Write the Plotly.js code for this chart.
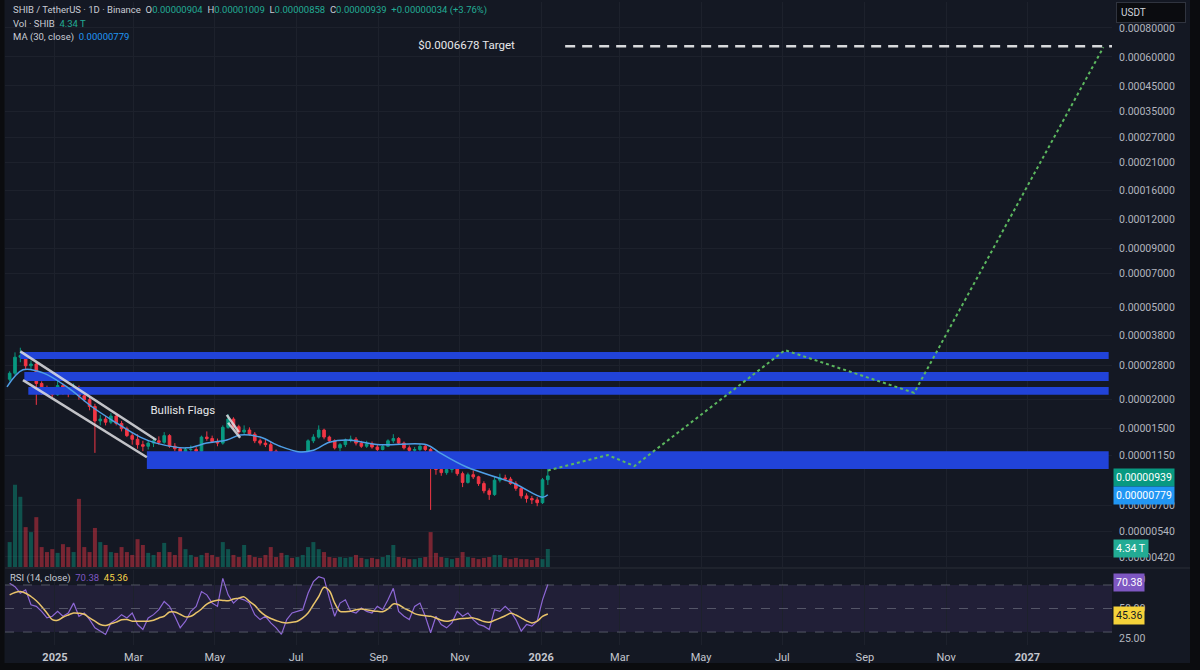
<!DOCTYPE html>
<html><head><meta charset="utf-8">
<script src="https://cdn.plot.ly/plotly-3.0.1.min.js"></script>
<style>html,body{margin:0;padding:0;background:#141823;}#chart{width:1200px;height:670px;}</style>
</head><body><div id="chart"></div>
<script>
// ================= DATA =================
// Candles (4-day bars) starting 2024-11-28, prices in units of 1e-6 USDT
const candleStart = '2024-11-28';
const candleStepDays = 4;
const openE6 = [
 24.5,26,30.5,31,28,28.5,23.5,22,21.5,21,
 23,21.5,21.2,22.5,20.8,20,18.7,16.2,16.5,16,
 17,15.8,15,14,13.5,12.8,12.6,13,13.3,13.1,
 14,12.6,12.3,11.8,12.2,12.2,12,13.8,13.6,13.2,
 13,15.2,16.5,15.3,14.5,14.8,14.2,13.3,13,12.8,
 12,11.5,11,11.5,11.4,11.6,11.8,13.3,13.8,14.8,
 13.8,13.3,12.4,12.8,13.4,13.5,13,12.6,12.9,12.5,
 12.2,12.6,13.3,13.6,13,12.4,12.1,12.2,12.6,12.2,
 10.3,10,9.7,10,10.1,9.6,8.8,9.5,9.3,8.7,
 8.1,7.8,9.0,9.2,9.1,8.7,8.3,7.7,7.5,7.4,7.2,9.04];
const highE6 = [
 26.5,32,33.5,32,29.5,29,24,23,22.5,24.5,
 23.5,22.3,23.5,23,21.3,20.5,19.2,17.2,17,17.5,
 17.2,16.2,15.3,14.5,14.2,13.3,13.4,13.8,13.9,14.5,
 14.2,13,12.5,12.5,12.7,12.5,14,14.6,14,13.6,
 15.5,17.3,16.8,15.6,15.5,15.2,14.5,13.6,13.5,13.2,
 12.2,11.8,11.8,11.8,11.8,12,13.5,14.2,15.5,15,
 14,13.5,13,13.6,14,13.8,13.3,13.3,13.2,12.8,
 12.8,13.5,14.2,13.8,13.2,12.7,12.5,12.9,12.8,12.4,
 10.8,10.3,10.2,10.4,10.2,9.8,9.7,9.9,9.4,8.9,
 8.3,9.3,9.6,9.5,9.3,8.9,8.4,7.9,7.7,7.6,9.2,10.09];
const lowE6 = [
 24,25.5,29,27,27,19,21,21,20.5,20.8,
 21,20.5,21,20,19.6,18,11.8,15.5,15.5,15.7,
 15.5,14.6,13.8,12.8,12.3,12,12.2,12.5,12.8,12.9,
 12.4,12,10.5,11.2,11.9,11.8,11.9,13.3,13,12.6,
 12.8,15,15,14.2,14.2,14,13,12.7,12.5,11.8,
 11.3,10.4,10.8,11.2,11,11.3,11.6,13,13.6,13.5,
 13,12.2,12,12.5,13.1,12.7,12.4,12.4,12.3,12,
 12.1,12.5,13,12.8,12.2,11.8,11.8,12,12,6.7,
 9.5,9.4,9.5,9.7,9.4,8.4,8.7,9.1,8.5,7.9,
 7.4,7.7,8.8,8.9,8.6,8.1,7.5,7.2,7.1,6.95,7.1,8.58];
const closeE6 = [
 26,30.5,31,28,28.5,23.5,22,21.5,21,23,
 21.5,21.2,22.5,20.8,20,18.7,16.2,16.5,16,17,
 15.8,15,14,13.5,12.8,12.6,13,13.3,13.1,14,
 12.6,12.3,11.8,12.2,12.2,12,13.8,13.6,13.2,13,
 15.2,16.5,15.3,14.5,14.8,14.2,13.3,13,12.8,12,
 11.5,11,11.5,11.4,11.6,11.8,13.3,13.8,14.8,13.8,
 13.3,12.4,12.8,13.4,13.5,13,12.6,12.9,12.5,12.2,
 12.6,13.3,13.6,13,12.4,12.1,12.2,12.6,12.2,10.3,
 10,9.7,10,10.1,9.6,8.8,9.5,9.3,8.7,8.1,
 7.8,9.0,9.2,9.1,8.7,8.3,7.7,7.5,7.4,7.2,9.04,9.39];
// Volume per bar, in T (trillion SHIB)
const volumeT = [
 6.0,19.8,16.9,9.6,8.4,12.0,4.8,3.6,4.3,3.4,
 5.5,4.8,3.6,16.4,4.8,3.6,9.4,6.0,5.3,3.6,
 3.4,4.8,3.6,2.9,6.7,5.3,3.4,2.9,3.6,5.8,
 3.6,2.9,7.2,4.3,2.9,2.4,2.9,3.4,2.9,2.4,
 6.0,4.3,2.9,2.4,5.3,2.9,2.4,2.2,2.9,4.8,
 2.4,3.4,2.9,2.2,2.4,2.9,4.8,6.0,4.3,3.6,
 2.4,2.2,2.4,2.2,2.4,2.9,2.2,1.9,2.2,1.9,
 2.4,2.9,5.3,2.4,2.2,1.9,1.9,2.2,2.4,8.4,
 3.4,2.4,2.2,1.9,2.2,3.6,2.4,2.2,1.9,2.2,
 2.4,2.9,2.9,2.2,1.9,2.2,1.9,1.9,1.7,2.2,1.9,4.34];
// RSI(14) and its moving average, same bars
const rsi = [
 71.4,68.6,63,65.8,53.2,51.8,47.6,42,43.4,47.6,
 43.4,46.2,54.6,43.4,46.2,40.6,33.6,30.8,28,37.8,
 40.6,44.8,42,46.2,36.4,32.2,42,44.8,49,56,
 51.8,43.4,33.6,39.2,47.6,51.8,64.4,61.6,54.6,51.8,
 75.6,61.6,54.6,58.8,57.4,54.6,44.8,40.6,43.4,37.8,
 33.6,28,40.6,46.2,47.6,49,63,72.8,77,75.6,
 58.8,43.4,54.6,57.4,47.6,46.2,50.4,47.6,46.2,51.8,
 49,57.4,67.2,47.6,43.4,40.6,51.8,54.6,43.4,29.4,
 43.4,36.4,33.6,37.8,47.6,43.4,46.2,40.6,36.4,35,
 32.2,49,47.6,51.8,47.6,40.6,30.8,36.4,35,39.2,57.4,70.38];
const rsiMa = [
 61.6,63.6,64.4,63,60.2,56.6,51.8,46.2,40.6,40,
 42.6,44.5,46.2,46,45.1,42,39.2,36.4,35.6,37,
 38.4,40.4,40.6,39.2,39.2,39.2,39.2,40,42,43.4,
 47,47,45.1,42.9,43.4,46.2,49.6,53.8,56,57.1,
 56.9,56.6,58,58.8,59.9,56,52.7,47.6,43.9,41.5,
 39.8,38.4,37.8,38.4,39.2,42,46.2,53.2,60.2,68,
 65,54.6,47.6,47.3,47.6,49,49.6,49,48.2,47.6,
 47.3,49.6,53.8,53.2,50.4,48.2,45.7,44.5,43.9,43.4,
 42,40,39.2,40,40.9,41.5,41.8,42,40.6,38.9,
 38.4,40,41.8,43.9,45.9,44.5,42,39.5,37.8,39.2,43.4,45.36];
// MA(30, close)
const maDates = ['2024-11-26','2024-12-08','2024-12-23','2025-01-10','2025-01-29','2025-02-13','2025-03-06','2025-03-18','2025-04-10','2025-04-25','2025-05-10','2025-05-20','2025-06-04','2025-06-19','2025-07-04','2025-07-14','2025-07-26','2025-08-08','2025-09-02','2025-10-07','2025-10-17','2025-11-06','2025-12-11','2026-01-02','2026-01-06'];
const maE6 = [22.7,26.9,26.1,22.7,18.6,16.3,13.8,13.0,12.4,13.0,13.4,14.1,13.8,12.6,11.9,12.1,13.1,13.4,12.8,12.8,11.8,10.25,8.75,7.6,7.79];
// Support / resistance zones
const zoneStart = ['2024-12-06','2024-12-09','2024-12-12','2025-03-11'];
const zoneEnd = ['2027-03-03','2027-03-03','2027-03-03','2027-03-03'];
const zoneTop = [3.21e-5, 2.63e-5, 2.27e-5, 1.20e-5];
const zoneBottom = [2.996e-5, 2.41e-5, 2.10e-5, 1.005e-5];
// Descending channel (bullish flag) lines
const chanUpperDates = ['2024-12-06','2025-03-18'];
const chanUpperPrices = [3.23e-5, 1.34e-5];
const chanLowerDates = ['2024-12-08','2025-03-11'];
const chanLowerPrices = [2.43e-5, 1.13e-5];
const flagADates = ['2025-05-10','2025-05-19'];
const flagAPrices = [1.72e-5, 1.45e-5];
const flagBDates = ['2025-05-11','2025-05-20'];
const flagBPrices = [1.59e-5, 1.37e-5];
// Projection path
const projDates = ['2026-01-06','2026-02-20','2026-03-12','2026-07-03','2026-10-08','2027-02-27'];
const projPrices = [9.9e-6, 1.155e-5, 1.035e-5, 3.27e-5, 2.14e-5, 6.6e-4];
// Target
const targetPrice = 0.0006678;
const targetDates = ['2026-01-19','2027-03-06'];
const targetLabel = '$0.0006678 Target';
const targetLabelDate = '2025-11-06';
const flagLabel = 'Bullish Flags';
const flagLabelDate = '2025-04-07';
const flagLabelPrice = 1.78e-5;
// Axis ticks
const priceTicks = [0.0008,0.0006,0.00045,0.00035,0.00027,0.00021,0.00016,0.00012,0.00009,0.00007,0.00005,0.000038,0.000028,0.00002,0.000015,0.0000115,0.000007,0.0000054,0.0000042];
const dateTicks = ['2025-01-01','2025-03-01','2025-05-01','2025-07-01','2025-09-01','2025-11-01','2026-01-01','2026-03-01','2026-05-01','2026-07-01','2026-09-01','2026-11-01','2027-01-01'];
const dateTickText = ['<b>2025</b>','Mar','May','Jul','Sep','Nov','<b>2026</b>','Mar','May','Jul','Sep','Nov','<b>2027</b>'];
const rsiTicks = [25,50,75];

// ================= BUILD =================
function addDays(s, n){const d=new Date(s+'T00:00:00Z');d.setUTCDate(d.getUTCDate()+n);return d.toISOString().slice(0,10);}
const dates = openE6.map((_,i)=>addDays(candleStart, i*candleStepDays));
const E6 = v => v*1e-6;
const UP='#089981', DN='#f23645';
const volColors = openE6.map((o,i)=> closeE6[i]>=o ? 'rgba(8,153,129,0.45)' : 'rgba(242,54,69,0.45)');

const traces = [];
// volume (base axis y)
traces.push({type:'bar', x:dates, y:volumeT, xaxis:'x', yaxis:'y', marker:{color:volColors, line:{width:0}}, hoverinfo:'skip'});
// zones
zoneStart.forEach((s,i)=>{
  traces.push({type:'scatter', mode:'lines', x:[s,zoneEnd[i],zoneEnd[i],s,s], y:[zoneTop[i],zoneTop[i],zoneBottom[i],zoneBottom[i],zoneTop[i]],
   fill:'toself', fillcolor:'#2143d8', line:{width:0, color:'#2143d8'}, xaxis:'x', yaxis:'y2', hoverinfo:'skip'});
});
// candles
traces.push({type:'candlestick', x:dates, open:openE6.map(E6), high:highE6.map(E6), low:lowE6.map(E6), close:closeE6.map(E6),
  xaxis:'x', yaxis:'y2', increasing:{line:{color:UP,width:1}, fillcolor:UP}, decreasing:{line:{color:DN,width:1}, fillcolor:DN},
  whiskerwidth:0, hoverinfo:'skip'});
// MA
traces.push({type:'scatter', mode:'lines', x:maDates, y:maE6.map(E6), line:{color:'#4f9fe6', width:1.5, shape:'spline'}, xaxis:'x', yaxis:'y2', hoverinfo:'skip'});
// channel lines
[[chanUpperDates,chanUpperPrices],[chanLowerDates,chanLowerPrices],[flagADates,flagAPrices],[flagBDates,flagBPrices]].forEach(([dx,dy])=>{
  traces.push({type:'scatter', mode:'lines', x:dx, y:dy, line:{color:'rgba(225,225,228,0.85)', width:2.5}, xaxis:'x', yaxis:'y2', hoverinfo:'skip'});
});
// projection
traces.push({type:'scatter', mode:'lines', x:projDates, y:projPrices, line:{color:'#5cb85f', width:2, dash:'dot'}, xaxis:'x', yaxis:'y2', hoverinfo:'skip'});
// target line
traces.push({type:'scatter', mode:'lines', x:targetDates, y:[targetPrice,targetPrice], line:{color:'#d8d9dc', width:2.5, dash:'10px,7px'}, xaxis:'x', yaxis:'y2', hoverinfo:'skip'});
// texts
traces.push({type:'scatter', mode:'text', x:[targetLabelDate, flagLabelDate], y:[targetPrice, flagLabelPrice], text:[targetLabel, flagLabel],
  textposition:'middle center', textfont:{color:'#e6e7ea', size:11.5, family:'Roboto'}, xaxis:'x', yaxis:'y2', hoverinfo:'skip'});
// RSI
traces.push({type:'scatter', mode:'lines', x:dates, y:rsi, line:{color:'#8e68d6', width:1.2}, xaxis:'x', yaxis:'y3', hoverinfo:'skip'});
traces.push({type:'scatter', mode:'lines', x:dates, y:rsiMa, line:{color:'#e9c46a', width:1.5, shape:'spline'}, xaxis:'x', yaxis:'y3', hoverinfo:'skip'});

// pixel -> paper helpers for annotations
const PL=5, PW=1107, PB=645, PH=643;
const px = x => (x-PL)/PW, py = y => (PB-y)/PH;

const gray='#b2b5be', green='#22ab94';
const sp = (c,t)=>'<span style="color:'+c+'">'+t+'</span>';
const annotations = [
 {text: sp('#c9ccd4','SHIB / TetherUS · 1D · Binance')+'&nbsp;&nbsp;'+sp('#c9ccd4','O')+sp(green,'0.00000904')+'&nbsp;&nbsp;'+sp('#c9ccd4','H')+sp(green,'0.00001009')+'&nbsp;&nbsp;'+sp('#c9ccd4','L')+sp(green,'0.00000858')+'&nbsp;&nbsp;'+sp('#c9ccd4','C')+sp(green,'0.00000939')+'&nbsp;&nbsp;'+sp(green,'+0.00000034 (+3.76%)'), x:px(11), y:py(10)},
 {text: sp('#c9ccd4','Vol · SHIB')+'&nbsp;&nbsp;'+sp(green,'4.34 T'), x:px(11), y:py(23.5)},
 {text: sp('#c9ccd4','MA (30, close)')+'&nbsp;&nbsp;'+sp('#2196f3','0.00000779'), x:px(11), y:py(37)},
 {text: sp('#c9ccd4','RSI (14, close)')+'&nbsp;&nbsp;'+sp('#7e57c2','70.38')+'&nbsp;&nbsp;'+sp('#f7d44a','45.36'), x:px(8), y:py(578)},
].map(a=>Object.assign({xref:'paper', yref:'paper', xanchor:'left', yanchor:'middle', showarrow:false, font:{family:'Roboto', size:9.5, color:'#c9ccd4'}}, a));

function box(t, y, bg, fg){return {text:t, x:px(1113), y:py(y), xref:'paper', yref:'paper', xanchor:'left', yanchor:'middle', showarrow:false,
  bgcolor:bg, borderpad:2, font:{family:'Roboto', size:10.5, color:fg||'#ffffff'}};}
annotations.push(box('0.00000939', 477, '#089981'));
annotations.push(box('0.00000779', 495, '#2196f3'));
annotations.push(box('4.34 T', 548, '#22ab94'));
annotations.push(box('70.38', 582, '#7e57c2'));
annotations.push(box('45.36', 615, '#f5d23a', '#131722'));
annotations.push({text:'USDT', x:px(1116), y:py(12), xref:'paper', yref:'paper', xanchor:'left', yanchor:'middle', showarrow:false,
  bgcolor:'#0b0c10', bordercolor:'#30343f', borderwidth:1, borderpad:4, width:60, align:'left', font:{family:'Roboto', size:10, color:'#d1d4dc'}});

const shapes = [
 {type:'rect', xref:'paper', yref:'y3', x0:0, x1:1, y0:30, y1:70, fillcolor:'rgba(126,87,194,0.13)', line:{width:0}, layer:'below'},
 ...[70,50,30].map(v=>({type:'line', xref:'paper', yref:'y3', x0:0, x1:1, y0:v, y1:v, line:{color:'rgba(130,133,145,0.55)', width:1, dash:'dash'}})),
 {type:'line', xref:'paper', yref:'paper', x0:0, x1:px(1190), y0:py(568), y1:py(568), line:{color:'#2a2e39', width:1}},
 {type:'rect', xref:'paper', yref:'paper', x0:px(-2), x1:px(4.5), y0:py(-2), y1:py(672), fillcolor:'#0b0c0f', line:{width:0}},
 {type:'rect', xref:'paper', yref:'paper', x0:px(1190), x1:px(1202), y0:py(-2), y1:py(672), fillcolor:'#0b0c0f', line:{width:0}},
 {type:'rect', xref:'paper', yref:'paper', x0:px(-2), x1:px(1202), y0:py(663), y1:py(672), fillcolor:'#0b0c0f', line:{width:0}},
];

const tickFont = {family:'Roboto', size:10.5, color:'#b2b5be'};
const layout = {
  width:1200, height:670, margin:{l:5, r:88, t:2, b:25},
  paper_bgcolor:'#141823', plot_bgcolor:'#141823', showlegend:false, hovermode:false,
  font:{family:'Roboto', color:'#b2b5be'},
  bargap:0.25,
  xaxis:{type:'date', range:['2024-11-24 12:00','2027-03-05 12:00'], anchor:'y3', tickmode:'array', tickvals:dateTicks, ticktext:dateTickText,
     tickfont:{family:'Roboto', size:11, color:'#c3c6ce'}, showgrid:true, gridcolor:'#1d212c', gridwidth:1, zeroline:false, showline:false,
     rangeslider:{visible:false}, ticks:'', ticklabelstandoff:4},
  yaxis:{domain:[0.1213,1], range:[0,136], visible:false, fixedrange:true},
  yaxis2:{type:'log', overlaying:'y', side:'right', anchor:'x', range:[-5.420,-2.985], tickmode:'array', tickvals:priceTicks,
     ticktext:priceTicks.map(v=>v.toFixed(8)), tickfont:tickFont, showgrid:true, gridcolor:'#1d212c', zeroline:false, showline:false, ticks:'', ticklabelstandoff:6},
  yaxis3:{domain:[0,0.1166], side:'right', anchor:'x', range:[19,82.7], tickmode:'array', tickvals:rsiTicks, ticktext:rsiTicks.map(v=>v.toFixed(2)),
     tickfont:tickFont, showgrid:false, zeroline:false, showline:false, ticks:'', ticklabelstandoff:6},
  annotations, shapes
};
Plotly.newPlot('chart', traces, layout, {staticPlot:true, displayModeBar:false});
</script></body></html>
